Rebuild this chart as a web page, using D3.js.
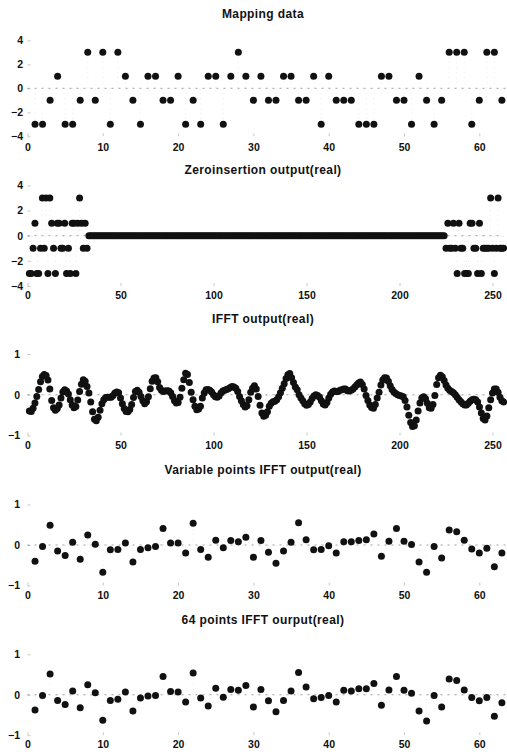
<!DOCTYPE html>
<html>
<head>
<meta charset="utf-8">
<script src="https://cdn.jsdelivr.net/npm/d3@7"></script>
<style>
body{margin:0;background:#fff;}
text{font-family:"Liberation Sans",Arial,Helvetica,sans-serif;font-weight:bold;fill:#111;}
</style>
</head>
<body>
<div id="svgcontainer"></div>
<script>
////////////////////////////////////////////////////////////////////////////////
// values
var titles = ["Mapping data", "Zeroinsertion output(real)", "IFFT output(real)",
	"Variable points IFFT output(real)", "64 points IFFT ourput(real)"];
var ticks64 = [0, 10, 20, 30, 40, 50, 60];
var ticks256 = [0, 50, 100, 150, 200, 250];
var ticksMap = [-4, -2, 0, 2, 4];
var ticksIfft = [-1, 0, 1];

//16QAM mapping, real part
var mapping = [-3,-3,-1,1,-3,-3,-1,3,-1,3,
	-3,3,1,-1,-3,1,1,-1,-1,1,
	-3,-1,-3,1,1,-3,1,3,1,-1,
	1,-1,-1,1,1,-1,-1,1,-3,1,
	-1,-1,-1,-3,-3,-3,1,1,-1,-1,
	-3,1,-1,-3,-1,3,3,3,-3,-1,
	3,3,-1];
//zero insertion: head block, 192 zeros, tail block
var zeroHead = [-3,-3,-1,1,-3,-3,-1,3,-1,3,-3,3,1,-1,-3,1,
	1,-1,-1,1,-3,-1,-3,1,1,-3,1,3,1,-1,1,-1];
var zeroMid = new Array(192).fill(0);
var zeroTail = [-1,1,-1,-1,1,-1,-3,1,-1,-1,-3,-3,-3,1,1,-1,
	-1,-3,1,-3,-1,-1,-1,-1,3,-1,-3,-1,3,-1,-1,-1];
var ifft256 = [-0.40,-0.41,-0.33,-0.20,-0.04,0.13,0.32,0.45,0.50,0.47,
	0.36,0.14,-0.14,-0.32,-0.38,-0.34,-0.25,-0.08,0.07,0.12,
	0.09,0.02,-0.12,-0.25,-0.32,-0.29,-0.13,0.08,0.26,0.37,
	0.33,0.20,0.04,-0.18,-0.42,-0.60,-0.64,-0.55,-0.38,-0.22,
	-0.12,-0.07,-0.06,-0.06,-0.06,-0.02,0.04,0.07,0.05,-0.08,
	-0.22,-0.34,-0.41,-0.42,-0.36,-0.24,-0.07,0.08,0.11,0.06,
	-0.04,-0.15,-0.22,-0.17,-0.05,0.15,0.33,0.41,0.42,0.32,
	0.18,0.11,0.08,0.09,0.10,0.09,0.05,-0.04,-0.15,-0.20,
	-0.19,-0.06,0.16,0.37,0.53,0.50,0.30,0.06,-0.12,-0.28,
	-0.37,-0.35,-0.28,-0.08,0.04,0.12,0.13,0.11,0.07,0.00,
	-0.05,-0.06,-0.03,0.04,0.09,0.11,0.13,0.15,0.18,0.20,
	0.19,0.16,0.08,-0.04,-0.15,-0.24,-0.30,-0.27,-0.12,0.06,
	0.16,0.22,0.14,-0.04,-0.26,-0.45,-0.53,-0.50,-0.42,-0.28,
	-0.21,-0.17,-0.16,-0.12,-0.05,0.05,0.16,0.27,0.40,0.49,
	0.52,0.42,0.30,0.19,0.12,0.00,-0.08,-0.15,-0.22,-0.26,
	-0.24,-0.18,-0.09,-0.03,0.00,-0.02,-0.06,-0.15,-0.23,-0.25,
	-0.19,-0.08,0.01,0.07,0.09,0.08,0.08,0.11,0.12,0.14,
	0.14,0.10,0.09,0.11,0.14,0.19,0.24,0.29,0.31,0.25,
	0.14,-0.02,-0.14,-0.25,-0.31,-0.33,-0.24,-0.08,0.06,0.24,
	0.36,0.42,0.41,0.33,0.22,0.13,0.07,0.03,0.00,-0.02,
	-0.03,-0.05,-0.14,-0.30,-0.50,-0.68,-0.78,-0.76,-0.62,-0.40,
	-0.20,-0.08,-0.05,-0.10,-0.21,-0.32,-0.33,-0.24,-0.02,0.25,
	0.42,0.48,0.44,0.35,0.24,0.16,0.11,0.08,0.05,0.00,
	-0.06,-0.12,-0.17,-0.22,-0.25,-0.25,-0.21,-0.16,-0.12,-0.11,
	-0.12,-0.18,-0.30,-0.45,-0.58,-0.62,-0.52,-0.32,-0.12,0.04,
	0.14,0.14,0.06,-0.06,-0.15,-0.18];
var variableIfft = [-0.40,-0.04,0.49,-0.15,-0.26,0.07,-0.35,0.25,0.02,-0.67,
	-0.12,-0.11,0.05,-0.42,-0.11,-0.07,-0.04,0.41,0.05,0.05,
	-0.20,0.54,-0.11,-0.30,0.12,-0.07,0.11,0.08,0.19,-0.30,
	0.11,-0.18,-0.45,-0.15,0.07,0.55,0.13,-0.12,-0.11,-0.02,
	-0.20,0.08,0.08,0.11,0.13,0.27,-0.28,0.09,0.41,0.09,
	0.01,-0.42,-0.67,-0.04,-0.32,0.37,0.33,0.12,-0.10,-0.20,
	-0.08,-0.54,-0.20];
var ifft64 = [-0.38,-0.02,0.51,-0.14,-0.24,0.09,-0.32,0.25,0.05,-0.63,
	-0.14,-0.11,0.07,-0.40,-0.08,-0.03,-0.02,0.45,0.08,0.07,
	-0.18,0.54,-0.08,-0.28,0.16,-0.06,0.13,0.11,0.23,-0.30,
	0.13,-0.15,-0.42,-0.14,0.09,0.55,0.19,-0.10,-0.07,-0.02,
	-0.18,0.11,0.09,0.15,0.15,0.28,-0.26,0.12,0.45,0.11,
	0.04,-0.40,-0.65,-0.02,-0.30,0.39,0.35,0.12,-0.07,-0.15,
	-0.07,-0.53,-0.20];
var zeroInsert = zeroHead.concat(zeroMid, zeroTail);

////////////////////////////////////////////////////////////////////////////////
//svg and scales
var w = 507, h = 754;
var mysvg = d3.select('#svgcontainer').append('svg').attr("width", w).attr("height", h);
var x64 = d3.scaleLinear().domain([0, 64]).range([27.5, 27.5 + 64 * 7.53]);
var x256 = d3.scaleLinear().domain([0, 256]).range([27.5, 27.5 + 256 * 1.86]);

//one entry per subplot: y range, title baseline, tick label baseline, label edge
var layout = [
	{data: mapping, x: x64, xt: ticks64, yd: [-4, 4], yr: [136.3, 40.3], ty: 18, lx: 150.7, ly: 23},
	{data: zeroInsert, x: x256, xt: ticks256, yd: [-4, 4], yr: [286, 185.4], ty: 174, lx: 299, ly: 23},
	{data: ifft256, x: x256, xt: ticks256, yd: [-1, 1], yr: [435.5, 354], ty: 323, lx: 449, ly: 20},
	{data: variableIfft, x: x64, xt: ticks64, yd: [-1, 1], yr: [585.5, 504.5], ty: 474, lx: 599, ly: 20},
	{data: ifft64, x: x64, xt: ticks64, yd: [-1, 1], yr: [735.2, 654.3], ty: 624, lx: 748, ly: 20}
];

layout.forEach(function(p, i){
	var y = d3.scaleLinear().domain(p.yd).range(p.yr);
	var g = mysvg.append('g');
	var xs = p.x;
	var right = Math.min(xs.range()[1], w);

	//title
	g.append('text')
		.attr("x", 263)
		.attr("y", p.ty)
		.attr("text-anchor", "middle")
		.attr("font-size", "12px")
		.attr("letter-spacing", "0.4px")
		.text(titles[i]);

	//x axis, inward faint ticks
	var xa = g.append('g')
		.attr("transform", "translate(0," + p.yr[0] + ")")
		.call(d3.axisBottom(xs).tickValues(p.xt).tickSize(-3).tickPadding(0));
	xa.select('.domain').remove();
	xa.selectAll('line').attr("stroke", "#c8c8c8");
	xa.selectAll('text')
		.attr("dy", null)
		.attr("y", p.lx - p.yr[0])
		.attr("font-size", "10.5px")
		.attr("fill", "#111");

	//y axis, integer labels
	var ya = g.append('g')
		.attr("transform", "translate(" + xs(0) + ",0)")
		.call(d3.axisLeft(y).tickValues(i < 2 ? ticksMap : ticksIfft)
			.tickFormat(d3.format("d")).tickSize(-3).tickPadding(xs(0) - p.ly));
	ya.select('.domain').remove();
	ya.selectAll('line').attr("stroke", "#c8c8c8");
	ya.selectAll('text')
		.attr("font-size", "10.5px")
		.attr("fill", "#111");

	//dotted zero baseline
	g.append('line')
		.attr("x1", xs(0)).attr("x2", right)
		.attr("y1", y(0)).attr("y2", y(0))
		.attr("stroke", "#888")
		.attr("stroke-width", 0.8)
		.attr("stroke-dasharray", "2,5");

	//stems, very faint as in the scan
	g.selectAll('.stem').data(p.data).enter().append('line')
		.attr("class", "stem")
		.attr("x1", function(d, k){ return xs(k + 1); })
		.attr("x2", function(d, k){ return xs(k + 1); })
		.attr("y1", y(0))
		.attr("y2", function(d){ return y(d); })
		.attr("stroke", "#d4d4d4")
		.attr("stroke-width", 0.5)
		.attr("stroke-dasharray", "1,4");

	//filled markers
	g.selectAll('.dot').data(p.data).enter().append('circle')
		.attr("class", "dot")
		.attr("cx", function(d, k){ return xs(k + 1); })
		.attr("cy", function(d){ return y(d); })
		.attr("r", 3.5)
		.attr("fill", "#111");
});
</script>
</body>
</html>
